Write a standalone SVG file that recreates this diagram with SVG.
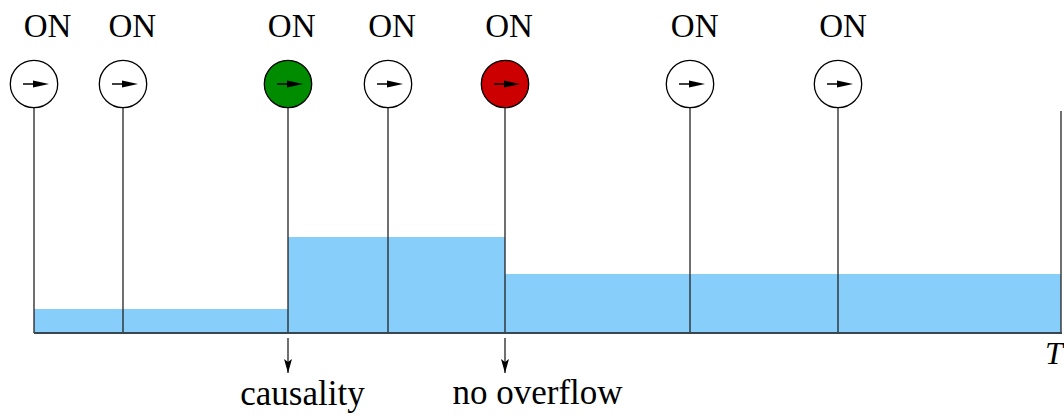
<svg xmlns="http://www.w3.org/2000/svg" width="1064" height="416" viewBox="0 0 1064 416">
  <style>
    .lbl { font-family: 'Liberation Serif', 'DejaVu Serif', 'Times New Roman', serif; fill: #000; }
    .on { font-size: 33px; text-anchor: middle; }
    .note { font-size: 35px; text-anchor: middle; }
    .tick { stroke: #222; stroke-width: 1.3; fill: none; }
    .disk { stroke: #000; stroke-width: 1.3; }
    .dir { stroke: #000; stroke-width: 1.5; }
    .level { fill: #87cefa; }
    .axis { stroke: #38464f; stroke-width: 1.8; fill: none; }
    .flag { stroke: #222; stroke-width: 1.3; fill: none; }
  </style>
  <defs>
    <!-- switch symbol: circle with a right-pointing arrow, centred on origin -->
    <g id="dirArrow">
      <line class="dir" x1="-11" y1="0" x2="2" y2="0"/>
      <polygon points="-1,-3.5 15,0 -1,3.5" fill="#000"/>
    </g>
    <marker id="downHead" markerWidth="8" markerHeight="14" refX="4" refY="14" orient="0" markerUnits="userSpaceOnUse">
      <path d="M0,0 L4,14 L8,0 L4,3 Z" fill="#000"/>
    </marker>
  </defs>

  <!-- buffer level over time -->
  <g id="levels">
    <rect class="level" x="34" y="309" width="254" height="24"/>
    <rect class="level" x="288" y="237" width="217" height="96"/>
    <rect class="level" x="505" y="274" width="556" height="59"/>
  </g>

  <!-- event lines, time axis and outcome arrows -->
  <g id="connectors">
    <line class="tick" x1="34" y1="108" x2="34" y2="333"/>
    <line class="tick" x1="123" y1="108" x2="123" y2="333"/>
    <line class="tick" x1="288" y1="108" x2="288" y2="333"/>
    <line class="tick" x1="388" y1="108" x2="388" y2="333"/>
    <line class="tick" x1="505" y1="108" x2="505" y2="333"/>
    <line class="tick" x1="690" y1="108" x2="690" y2="333"/>
    <line class="tick" x1="838" y1="108" x2="838" y2="333"/>
    <line class="tick" x1="1061" y1="111" x2="1061" y2="333"/>
    <line class="axis" x1="34" y1="333" x2="1062" y2="333"/>
    <line class="flag" x1="288" y1="338" x2="288" y2="373" marker-end="url(#downHead)"/>
    <line class="flag" x1="505" y1="338" x2="505" y2="373" marker-end="url(#downHead)"/>
  </g>

  <g id="on1">
    <text class="lbl on" x="47.5" y="37" font-family="Liberation Serif, serif">ON</text>
    <circle class="disk" cx="34" cy="84" r="23.7" fill="#fff"/>
    <use href="#dirArrow" x="34" y="84"/>
  </g>
  <g id="on2">
    <text class="lbl on" x="132.3" y="37">ON</text>
    <circle class="disk" cx="123" cy="84" r="23.7" fill="#fff"/>
    <use href="#dirArrow" x="123" y="84"/>
  </g>
  <g id="on3">
    <text class="lbl on" x="291.7" y="37">ON</text>
    <circle class="disk" cx="288" cy="84" r="23.7" fill="#008c00"/>
    <use href="#dirArrow" x="288" y="84"/>
  </g>
  <g id="on4">
    <text class="lbl on" x="392" y="37">ON</text>
    <circle class="disk" cx="388" cy="84" r="23.7" fill="#fff"/>
    <use href="#dirArrow" x="388" y="84"/>
  </g>
  <g id="on5">
    <text class="lbl on" x="509" y="37">ON</text>
    <circle class="disk" cx="505" cy="84" r="23.7" fill="#cc0000"/>
    <use href="#dirArrow" x="505" y="84"/>
  </g>
  <g id="on6">
    <text class="lbl on" x="694.7" y="37">ON</text>
    <circle class="disk" cx="690" cy="84" r="23.7" fill="#fff"/>
    <use href="#dirArrow" x="690" y="84"/>
  </g>
  <g id="on7">
    <text class="lbl on" x="843" y="37">ON</text>
    <circle class="disk" cx="838" cy="84" r="23.7" fill="#fff"/>
    <use href="#dirArrow" x="838" y="84"/>
  </g>

  <g id="notes">
    <text class="lbl note" x="302.5" y="405">causality</text>
    <text class="lbl note" x="537.5" y="404">no overflow</text>
    <text class="lbl" x="1045" y="364" font-size="32" font-style="italic">T</text>
  </g>
</svg>
